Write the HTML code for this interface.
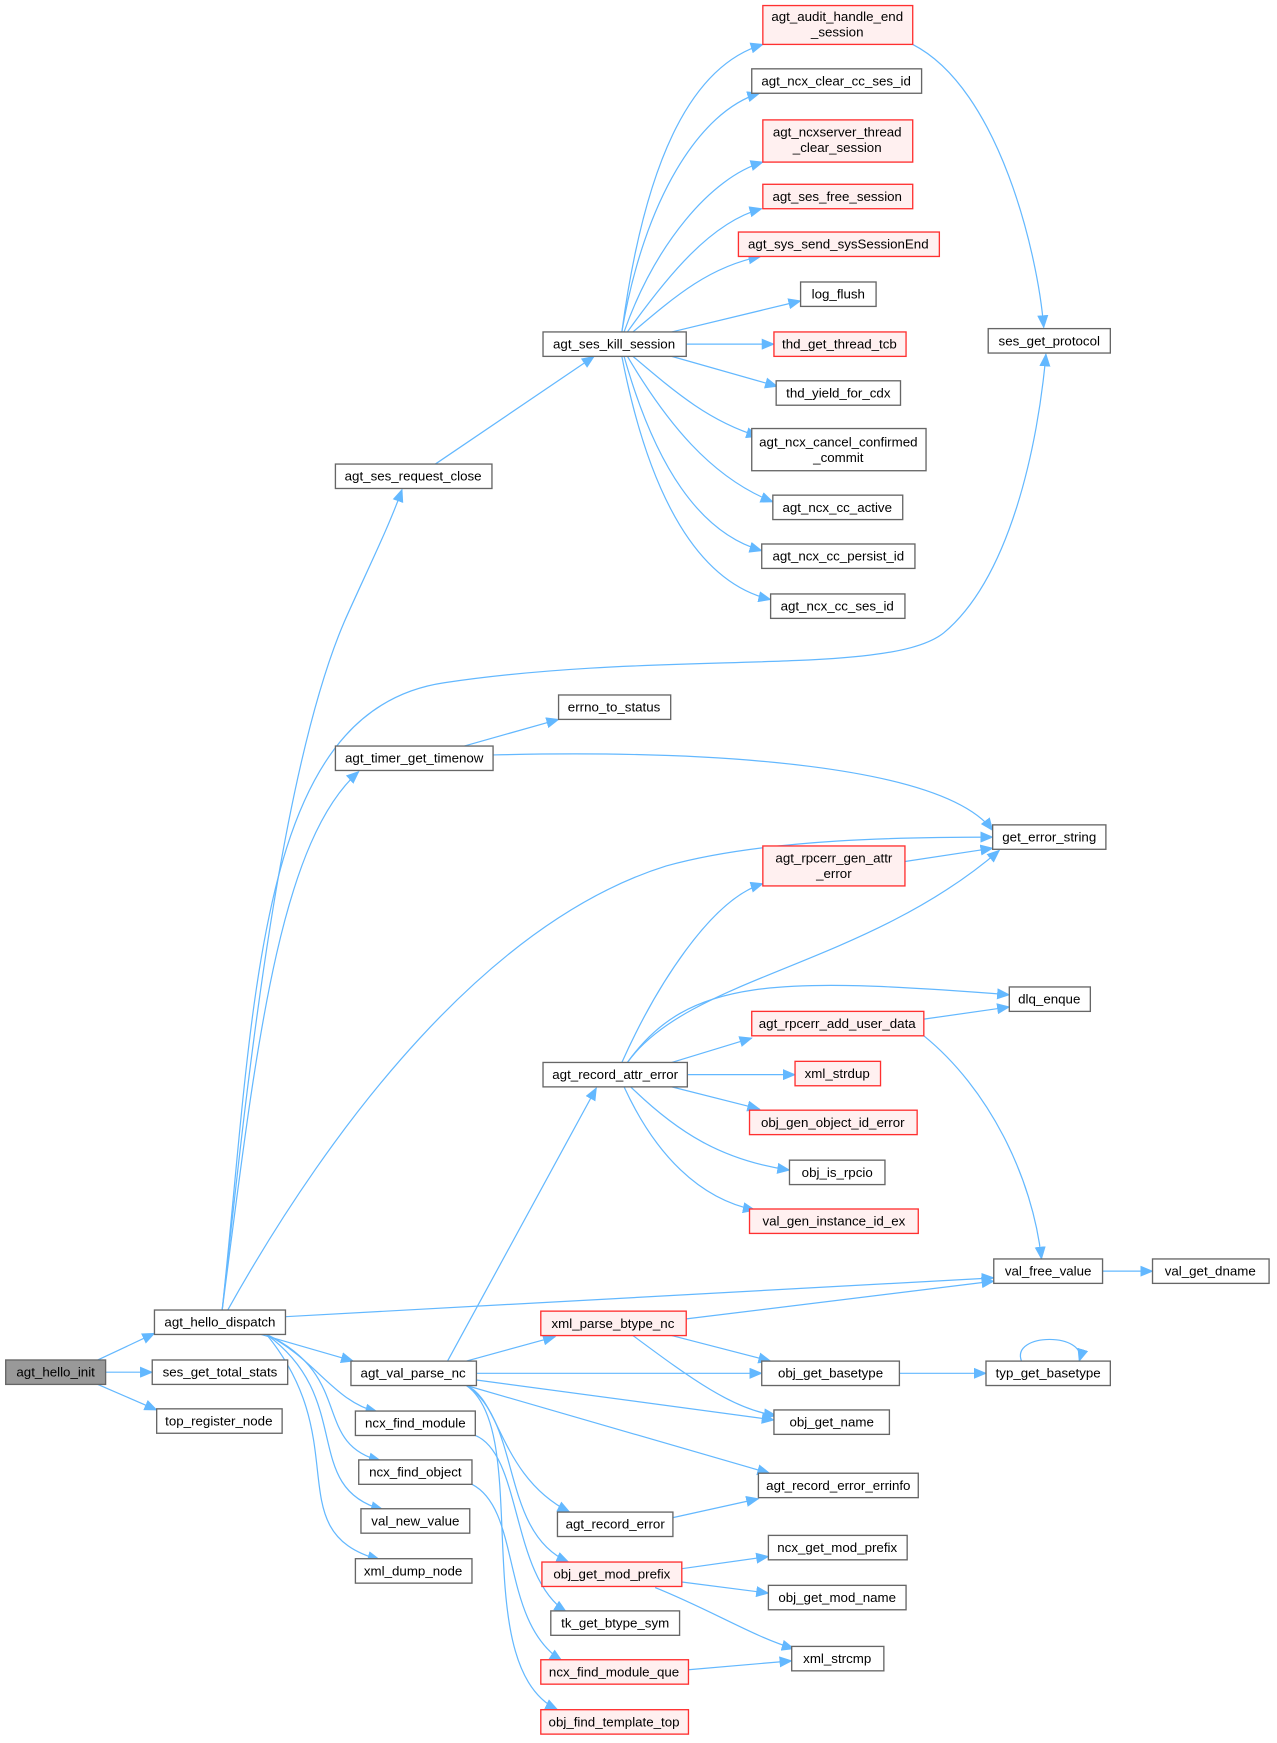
<!DOCTYPE html>
<html><head><meta charset="utf-8"><style>
html,body{margin:0;padding:0;background:#fff;}
svg{display:block;}
text{font-family:"Liberation Sans",Arial,sans-serif;font-size:12px;fill:#000;}
.e{fill:none;stroke:#63b8ff;stroke-width:1.1;}
.n{fill:#fff;stroke:#666;stroke-width:1.2;}
.r{fill:#fff0f0;stroke:#ff3030;stroke-width:1.2;}
.g{fill:#999;stroke:#666;stroke-width:1.2;}
</style></head><body>
<svg width="1277" height="1743" viewBox="0 0 1150 1570" xmlns="http://www.w3.org/2000/svg">
<defs><marker id="a" markerWidth="12" markerHeight="10" refX="11" refY="5" orient="auto" markerUnits="userSpaceOnUse"><path d="M0,0 L12,5 L0,10 z" fill="#63b8ff"/></marker></defs>
<g marker-end="url(#a)">
<path class="e" d="M88,1225 L139,1201"/>
<path class="e" d="M95,1236 L137,1236"/>
<path class="e" d="M88,1247 L141,1270"/>
<path class="e" d="M200,1180 C220,1000 250,700 310,560 C330,515 350,475 362,441"/>
<path class="e" d="M200,1180 C230,900 230,640 400,615 C600,585 800,610 850,570 C910,520 935,400 942,319"/>
<path class="e" d="M200,1180 C230,950 250,760 323,695"/>
<path class="e" d="M205,1180 C300,1010 440,830 600,780 C690,755 820,754 894,754"/>
<path class="e" d="M257,1186 L895,1151"/>
<path class="e" d="M235,1202 L318,1226"/>
<path class="e" d="M240,1202 C285,1225 300,1262 340,1272"/>
<path class="e" d="M240,1202 C320,1240 280,1300 343,1316"/>
<path class="e" d="M240,1202 C320,1260 270,1340 345,1360"/>
<path class="e" d="M240,1202 C320,1300 250,1380 342,1405"/>
<path class="e" d="M392,418 L535,321"/>
<path class="e" d="M560,299 C580,150 620,60 687,40"/>
<path class="e" d="M560,299 C580,180 630,100 684,84"/>
<path class="e" d="M562,299 C590,220 640,160 687,146"/>
<path class="e" d="M565,299 C600,250 640,200 686,188"/>
<path class="e" d="M570,299 C610,265 640,240 685,231"/>
<path class="e" d="M605,299 L721,271"/>
<path class="e" d="M618,310 L697,310"/>
<path class="e" d="M605,321 L700,348"/>
<path class="e" d="M570,321 C610,355 640,380 683,393"/>
<path class="e" d="M565,321 C600,380 640,430 696,452"/>
<path class="e" d="M562,321 C590,420 630,480 686,496"/>
<path class="e" d="M560,321 C585,450 630,525 694,540"/>
<path class="e" d="M822,40 C900,80 935,230 940,295"/>
<path class="e" d="M418,672 L503,648"/>
<path class="e" d="M444,680 C650,675 850,690 894,748"/>
<path class="e" d="M403,1226 L537,980"/>
<path class="e" d="M420,1226 L500,1204"/>
<path class="e" d="M429,1237 L686,1237"/>
<path class="e" d="M429,1243 L697,1279"/>
<path class="e" d="M420,1248 L693,1327"/>
<path class="e" d="M420,1248 C450,1260 450,1330 513,1362"/>
<path class="e" d="M420,1248 C470,1280 450,1380 512,1407"/>
<path class="e" d="M428,1293 C470,1310 460,1420 510,1452"/>
<path class="e" d="M425,1337 C470,1360 450,1460 506,1496"/>
<path class="e" d="M420,1248 C480,1290 420,1500 502,1540"/>
<path class="e" d="M560,957 C590,890 640,810 687,796"/>
<path class="e" d="M565,957 C620,880 780,870 900,766"/>
<path class="e" d="M565,957 C620,880 700,880 909,896"/>
<path class="e" d="M605,957 L677,935"/>
<path class="e" d="M619,968 L716,968"/>
<path class="e" d="M605,979 L684,999"/>
<path class="e" d="M568,979 C610,1020 650,1045 711,1054"/>
<path class="e" d="M562,979 C590,1040 630,1080 680,1090"/>
<path class="e" d="M815,776 L894,764"/>
<path class="e" d="M832,918 L909,907"/>
<path class="e" d="M832,933 C890,980 930,1060 938,1134"/>
<path class="e" d="M618,1188 L895,1154"/>
<path class="e" d="M605,1203 L694,1226"/>
<path class="e" d="M570,1203 C620,1240 660,1270 699,1275"/>
<path class="e" d="M993,1145 L1038,1145"/>
<path class="e" d="M810,1237 L888,1237"/>
<path class="e" d="M920,1226 C910,1200 980,1200 972,1226"/>
<path class="e" d="M606,1367 L683,1350"/>
<path class="e" d="M614,1413 L692,1402"/>
<path class="e" d="M614,1425 L692,1435"/>
<path class="e" d="M590,1430 C640,1450 680,1475 715,1485"/>
<path class="e" d="M620,1504 L713,1496"/>
</g>
<rect class="g" x="5" y="1225" width="90" height="22"/><text x="50" y="1240" text-anchor="middle">agt_hello_init</text>
<g text-anchor="middle">
<rect class="n" x="139" y="1180" width="118" height="22"/><text x="198" y="1195">agt_hello_dispatch</text>
<rect class="n" x="137" y="1225" width="122" height="22"/><text x="198" y="1240">ses_get_total_stats</text>
<rect class="n" x="141" y="1269" width="113" height="22"/><text x="197" y="1284">top_register_node</text>
<rect class="n" x="302" y="418" width="141" height="22"/><text x="372" y="433">agt_ses_request_close</text>
<rect class="n" x="302" y="672" width="142" height="22"/><text x="373" y="687">agt_timer_get_timenow</text>
<rect class="n" x="316" y="1226" width="113" height="22"/><text x="372" y="1241">agt_val_parse_nc</text>
<rect class="n" x="320" y="1271" width="108" height="22"/><text x="374" y="1286">ncx_find_module</text>
<rect class="n" x="323" y="1315" width="102" height="22"/><text x="374" y="1330">ncx_find_object</text>
<rect class="n" x="325" y="1359" width="98" height="22"/><text x="374" y="1374">val_new_value</text>
<rect class="n" x="320" y="1404" width="105" height="22"/><text x="372" y="1419">xml_dump_node</text>
<rect class="n" x="489" y="299" width="129" height="22"/><text x="553" y="314">agt_ses_kill_session</text>
<rect class="n" x="503" y="626" width="101" height="22"/><text x="553" y="641">errno_to_status</text>
<rect class="n" x="489" y="957" width="130" height="22"/><text x="554" y="972">agt_record_attr_error</text>
<rect class="n" x="502" y="1362" width="104" height="22"/><text x="554" y="1377">agt_record_error</text>
<rect class="r" x="488" y="1407" width="126" height="22"/><text x="551" y="1422">obj_get_mod_prefix</text>
<rect class="n" x="496" y="1451" width="116" height="22"/><text x="554" y="1466">tk_get_btype_sym</text>
<rect class="r" x="487" y="1495" width="133" height="22"/><text x="553" y="1510">ncx_find_module_que</text>
<rect class="r" x="487" y="1540" width="133" height="22"/><text x="553" y="1555">obj_find_template_top</text>
<rect class="r" x="487" y="1181" width="131" height="22"/><text x="552" y="1196">xml_parse_btype_nc</text>
<rect class="r" x="687" y="5" width="135" height="35"/><text x="754" y="19">agt_audit_handle_end</text><text x="754" y="33">_session</text>
<rect class="n" x="677" y="62" width="153" height="22"/><text x="753" y="77">agt_ncx_clear_cc_ses_id</text>
<rect class="r" x="687" y="108" width="135" height="38"/><text x="754" y="123">agt_ncxserver_thread</text><text x="754" y="137">_clear_session</text>
<rect class="r" x="687" y="166" width="135" height="22"/><text x="754" y="181">agt_ses_free_session</text>
<rect class="r" x="665" y="209" width="181" height="22"/><text x="755" y="224">agt_sys_send_sysSessionEnd</text>
<rect class="n" x="721" y="254" width="68" height="22"/><text x="755" y="269">log_flush</text>
<rect class="r" x="697" y="299" width="119" height="22"/><text x="756" y="314">thd_get_thread_tcb</text>
<rect class="n" x="699" y="343" width="112" height="22"/><text x="755" y="358">thd_yield_for_cdx</text>
<rect class="n" x="677" y="386" width="157" height="38"/><text x="755" y="402">agt_ncx_cancel_confirmed</text><text x="755" y="416">_commit</text>
<rect class="n" x="696" y="446" width="117" height="22"/><text x="754" y="461">agt_ncx_cc_active</text>
<rect class="n" x="686" y="490" width="138" height="22"/><text x="755" y="505">agt_ncx_cc_persist_id</text>
<rect class="n" x="694" y="535" width="121" height="22"/><text x="754" y="550">agt_ncx_cc_ses_id</text>
<rect class="r" x="687" y="762" width="128" height="36"/><text x="751" y="777">agt_rpcerr_gen_attr</text><text x="751" y="791">_error</text>
<rect class="r" x="677" y="911" width="155" height="22"/><text x="754" y="926">agt_rpcerr_add_user_data</text>
<rect class="r" x="716" y="956" width="77" height="22"/><text x="754" y="971">xml_strdup</text>
<rect class="r" x="675" y="1000" width="151" height="22"/><text x="750" y="1015">obj_gen_object_id_error</text>
<rect class="n" x="711" y="1045" width="86" height="22"/><text x="754" y="1060">obj_is_rpcio</text>
<rect class="r" x="675" y="1089" width="152" height="22"/><text x="751" y="1104">val_gen_instance_id_ex</text>
<rect class="n" x="686" y="1226" width="124" height="22"/><text x="748" y="1241">obj_get_basetype</text>
<rect class="n" x="697" y="1270" width="104" height="22"/><text x="749" y="1285">obj_get_name</text>
<rect class="n" x="683" y="1327" width="144" height="22"/><text x="755" y="1342">agt_record_error_errinfo</text>
<rect class="n" x="692" y="1383" width="125" height="22"/><text x="754" y="1398">ncx_get_mod_prefix</text>
<rect class="n" x="692" y="1428" width="124" height="22"/><text x="754" y="1443">obj_get_mod_name</text>
<rect class="n" x="713" y="1483" width="83" height="22"/><text x="754" y="1498">xml_strcmp</text>
<rect class="n" x="890" y="296" width="110" height="22"/><text x="945" y="311">ses_get_protocol</text>
<rect class="n" x="894" y="743" width="102" height="22"/><text x="945" y="758">get_error_string</text>
<rect class="n" x="909" y="889" width="73" height="22"/><text x="945" y="904">dlq_enque</text>
<rect class="n" x="895" y="1134" width="98" height="22"/><text x="944" y="1149">val_free_value</text>
<rect class="n" x="1038" y="1134" width="105" height="22"/><text x="1090" y="1149">val_get_dname</text>
<rect class="n" x="888" y="1226" width="112" height="22"/><text x="944" y="1241">typ_get_basetype</text>
</g>
</svg>
</body></html>
